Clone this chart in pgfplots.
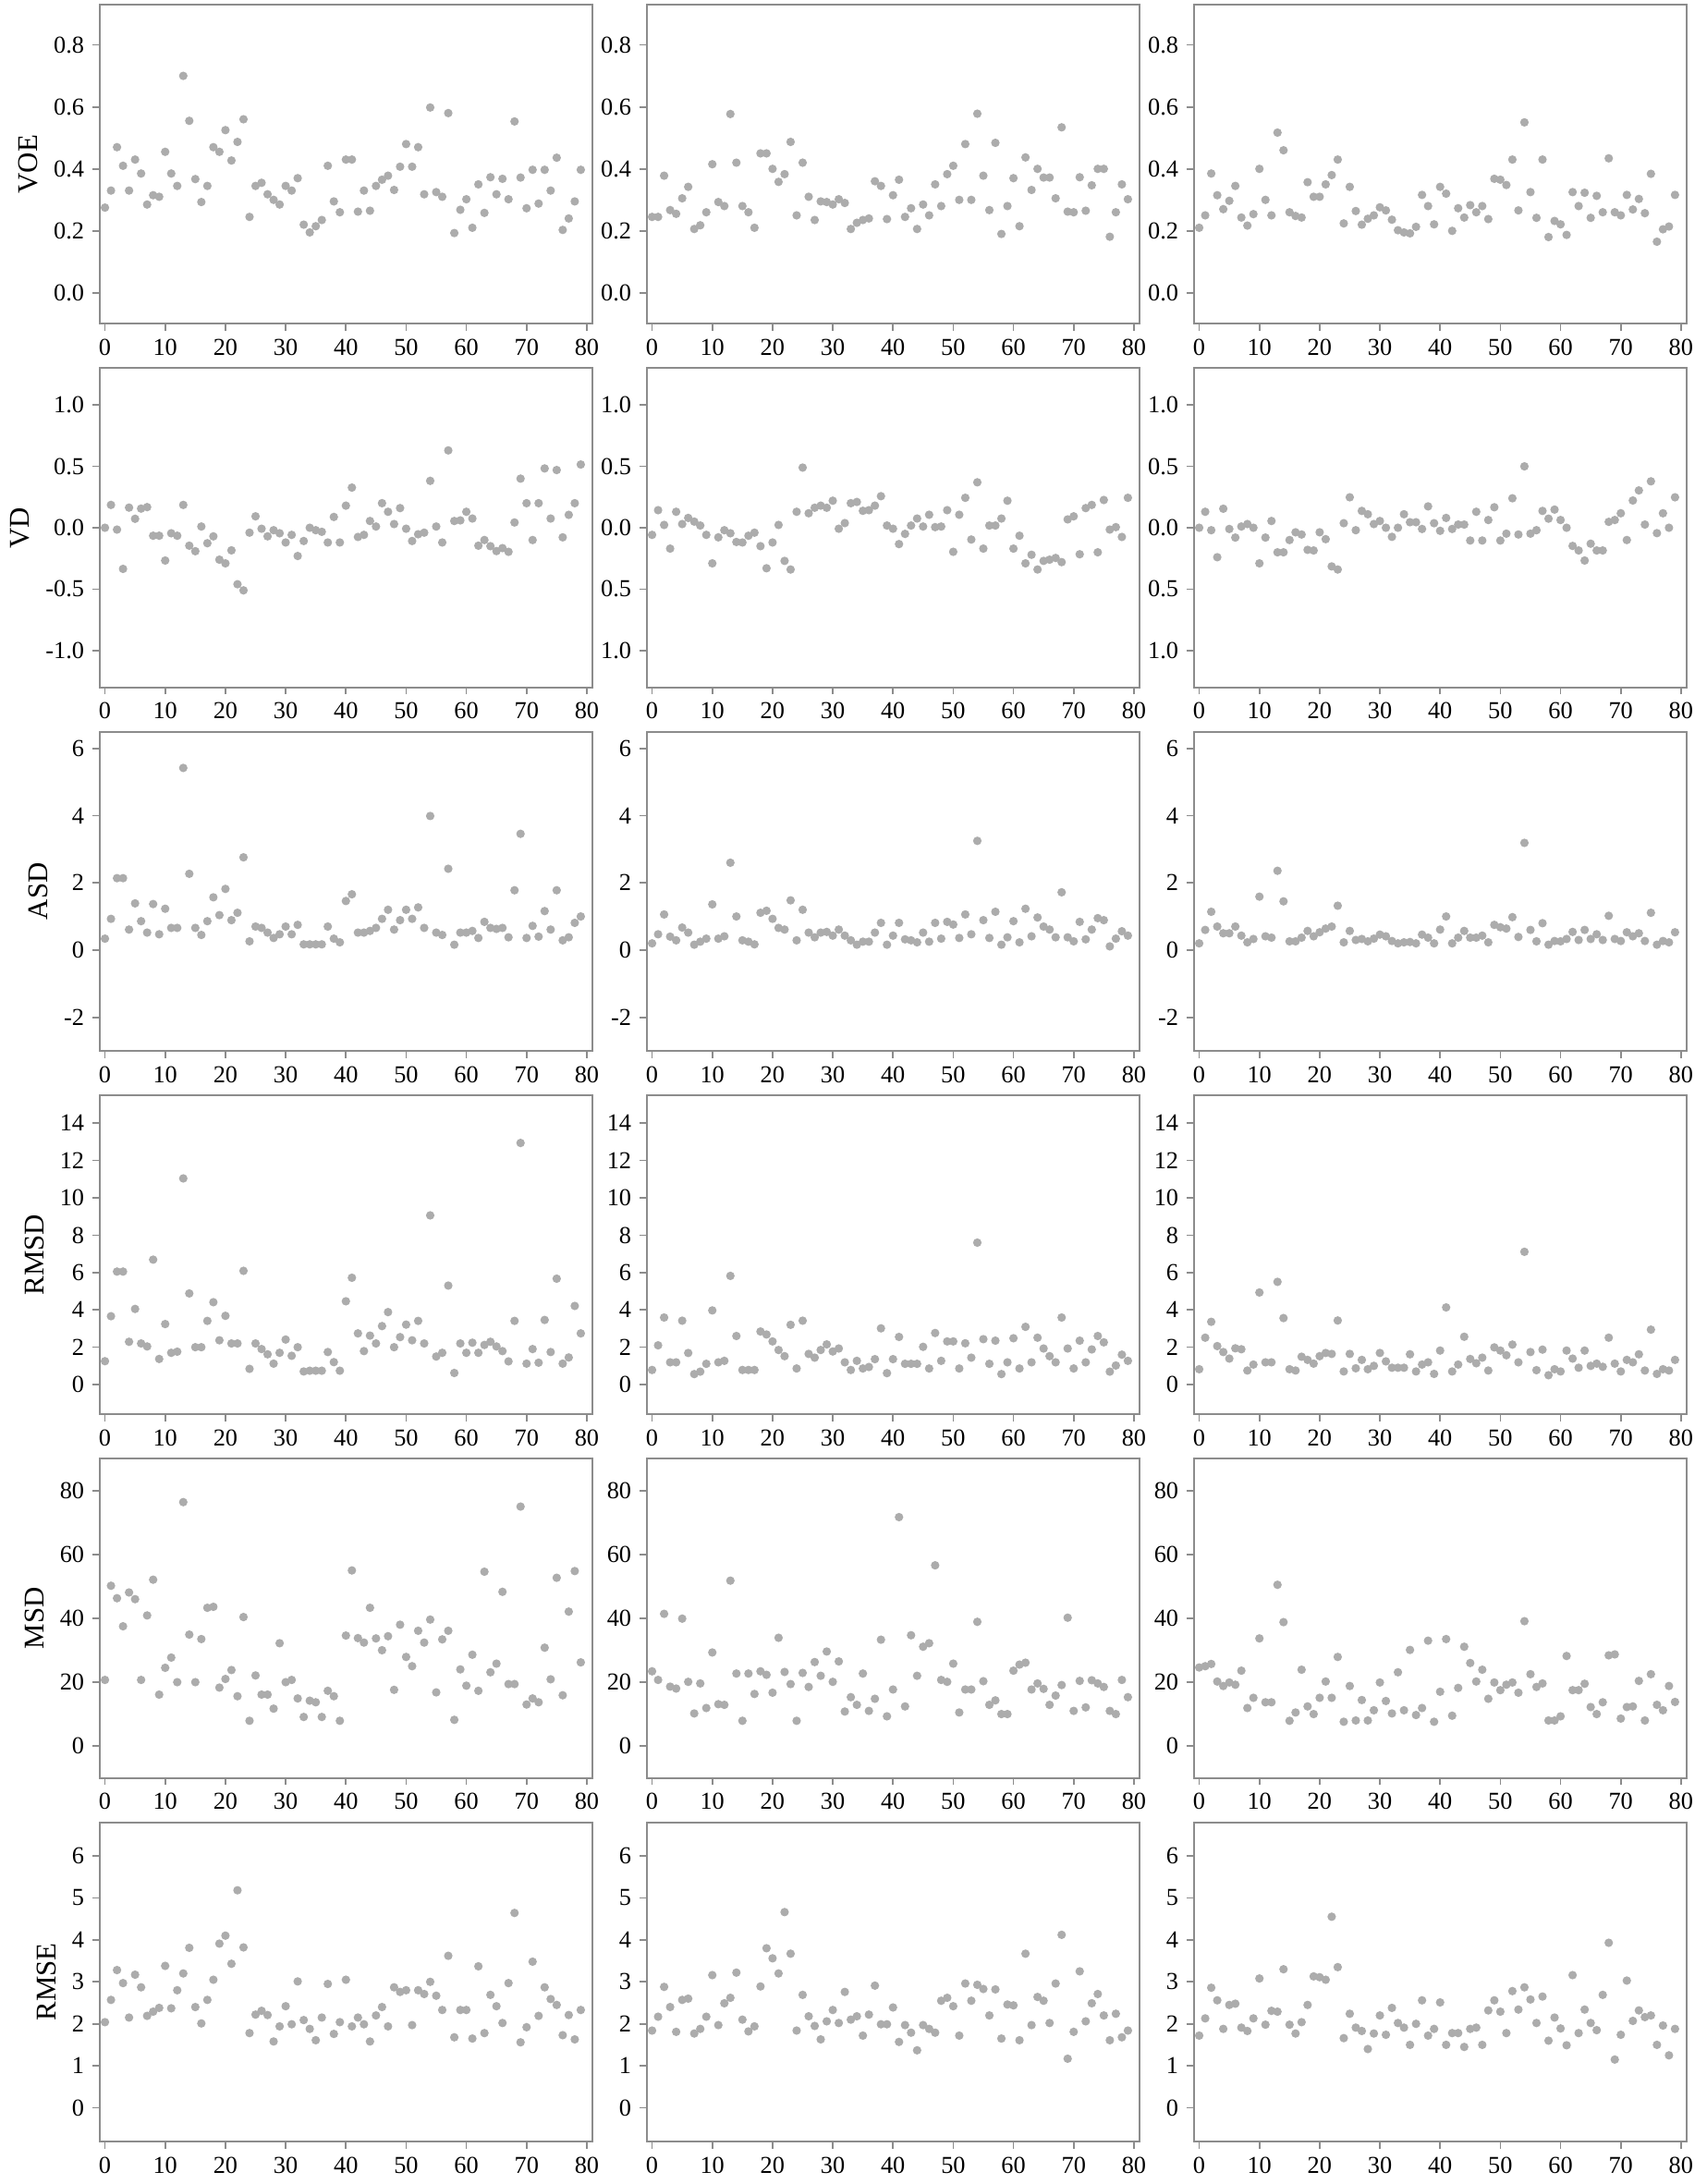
\documentclass[border=0pt]{standalone}
\usepackage{fontspec}
\setmainfont{Liberation Serif}
\usepackage{pgfplots}
\usepackage{pgfplotstable}
\pgfplotsset{compat=1.18}
\usepgfplotslibrary{groupplots}

\definecolor{frame}{RGB}{140,140,140}
\definecolor{dot}{RGB}{172,172,172}

% columns: x, a = left column, b = middle column, c = right column
\pgfplotstableread[row sep=\\]{
x a b c\\
0 0.275 0.245 0.21\\ 1 0.33 0.245 0.25\\ 2 0.47 0.378 0.385\\ 3 0.41 0.267 0.315\\
4 0.33 0.255 0.27\\ 5 0.43 0.305 0.297\\ 6 0.385 0.342 0.345\\ 7 0.285 0.206 0.243\\
8 0.315 0.218 0.217\\ 9 0.31 0.26 0.254\\ 10 0.455 0.415 0.40\\ 11 0.385 0.293 0.30\\
12 0.345 0.28 0.25\\ 13 0.70 0.577 0.517\\ 14 0.555 0.42 0.46\\ 15 0.367 0.28 0.26\\
16 0.293 0.26 0.248\\ 17 0.345 0.21 0.243\\ 18 0.47 0.45 0.357\\ 19 0.455 0.45 0.31\\
20 0.525 0.40 0.31\\ 21 0.427 0.358 0.35\\ 22 0.487 0.383 0.38\\ 23 0.56 0.487 0.43\\
24 0.245 0.25 0.224\\ 25 0.345 0.42 0.342\\ 26 0.355 0.31 0.264\\ 27 0.318 0.235 0.22\\
28 0.30 0.295 0.239\\ 29 0.285 0.293 0.25\\ 30 0.345 0.285 0.276\\ 31 0.33 0.302 0.266\\
32 0.37 0.29 0.236\\ 33 0.22 0.206 0.202\\ 34 0.195 0.226 0.195\\ 35 0.215 0.235 0.192\\
36 0.235 0.24 0.213\\ 37 0.41 0.36 0.316\\ 38 0.295 0.345 0.28\\ 39 0.26 0.238 0.221\\
40 0.43 0.315 0.342\\ 41 0.43 0.365 0.32\\ 42 0.262 0.245 0.20\\ 43 0.33 0.273 0.273\\
44 0.265 0.206 0.243\\ 45 0.345 0.285 0.283\\ 46 0.365 0.25 0.26\\ 47 0.378 0.35 0.28\\
48 0.332 0.28 0.238\\ 49 0.407 0.383 0.368\\ 50 0.48 0.41 0.365\\ 51 0.407 0.30 0.348\\
52 0.47 0.48 0.43\\ 53 0.318 0.30 0.266\\ 54 0.598 0.578 0.55\\ 55 0.325 0.378 0.325\\
56 0.31 0.267 0.242\\ 57 0.58 0.484 0.43\\ 58 0.193 0.19 0.18\\ 59 0.268 0.28 0.232\\
60 0.302 0.37 0.221\\ 61 0.21 0.215 0.187\\ 62 0.35 0.437 0.325\\ 63 0.258 0.332 0.28\\
64 0.373 0.40 0.323\\ 65 0.318 0.372 0.242\\ 66 0.368 0.372 0.313\\ 67 0.302 0.305 0.26\\
68 0.553 0.534 0.434\\ 69 0.372 0.262 0.26\\ 70 0.273 0.26 0.25\\ 71 0.397 0.373 0.316\\
72 0.288 0.265 0.269\\ 73 0.397 0.347 0.303\\ 74 0.33 0.40 0.257\\ 75 0.436 0.40 0.384\\
76 0.203 0.181 0.165\\ 77 0.24 0.26 0.205\\ 78 0.295 0.35 0.214\\ 79 0.397 0.302 0.316\\
}\voe

\pgfplotstableread[row sep=\\]{
x a b c\\
0 0.0 -0.058 0.0\\ 1 0.186 0.143 0.13\\ 2 -0.015 0.023 -0.02\\ 3 -0.335 -0.17 -0.24\\
4 0.164 0.13 0.155\\ 5 0.073 0.03 -0.01\\ 6 0.156 0.08 -0.08\\ 7 0.168 0.05 0.01\\
8 -0.065 0.018 0.03\\ 9 -0.065 -0.058 0.0\\ 10 -0.267 -0.29 -0.29\\ 11 -0.045 -0.078 -0.08\\
12 -0.065 -0.02 0.055\\ 13 0.186 -0.045 -0.2\\ 14 -0.146 -0.116 -0.2\\ 15 -0.191 -0.12 -0.1\\
16 0.01 -0.065 -0.037\\ 17 -0.126 -0.04 -0.055\\ 18 -0.07 -0.15 -0.18\\ 19 -0.26 -0.33 -0.185\\
20 -0.29 -0.12 -0.037\\ 21 -0.184 0.023 -0.093\\ 22 -0.46 -0.27 -0.315\\ 23 -0.51 -0.34 -0.34\\
24 -0.04 0.13 0.037\\ 25 0.093 0.49 0.248\\ 26 -0.008 0.118 -0.02\\ 27 -0.07 0.163 0.137\\
28 -0.02 0.18 0.11\\ 29 -0.045 0.163 0.03\\ 30 -0.12 0.22 0.055\\ 31 -0.058 -0.008 0.0\\
32 -0.23 0.038 -0.074\\ 33 -0.108 0.2 0.0\\ 34 0.0 0.21 0.11\\ 35 -0.02 0.138 0.045\\
36 -0.033 0.143 0.045\\ 37 -0.12 0.18 -0.01\\ 38 0.088 0.257 0.174\\ 39 -0.12 0.018 0.037\\
40 0.18 -0.008 -0.025\\ 41 0.327 -0.133 0.08\\ 42 -0.075 -0.05 -0.01\\ 43 -0.058 0.018 0.026\\
44 0.055 0.075 0.026\\ 45 0.01 0.01 -0.104\\ 46 0.2 0.106 0.13\\ 47 0.13 0.005 -0.104\\
48 0.03 0.01 0.063\\ 49 0.16 0.143 0.167\\ 50 -0.008 -0.196 -0.104\\ 51 -0.108 0.106 -0.048\\
52 -0.053 0.244 0.24\\ 53 -0.04 -0.096 -0.055\\ 54 0.382 0.37 0.5\\ 55 0.01 -0.17 -0.048\\
56 -0.12 0.018 -0.02\\ 57 0.63 0.018 0.137\\ 58 0.055 0.075 0.074\\ 59 0.06 0.22 0.148\\
60 0.13 -0.17 0.063\\ 61 0.075 -0.065 0.0\\ 62 -0.146 -0.29 -0.148\\ 63 -0.1 -0.22 -0.185\\
64 -0.15 -0.34 -0.267\\ 65 -0.19 -0.27 -0.13\\ 66 -0.166 -0.26 -0.185\\ 67 -0.196 -0.246 -0.185\\
68 0.043 -0.28 0.048\\ 69 0.40 0.068 0.063\\ 70 0.2 0.093 0.118\\ 71 -0.1 -0.216 -0.1\\
72 0.2 0.16 0.222\\ 73 0.483 0.186 0.304\\ 74 0.075 -0.2 0.026\\ 75 0.47 0.226 0.378\\
76 -0.078 -0.015 -0.044\\ 77 0.105 0.005 0.118\\ 78 0.2 -0.075 0.0\\ 79 0.515 0.244 0.248\\
}\vd

\pgfplotstableread[row sep=\\]{
x a b c\\
0 0.34 0.2 0.2\\ 1 0.93 0.47 0.6\\ 2 2.14 1.06 1.14\\ 3 2.14 0.4 0.7\\
4 0.61 0.29 0.5\\ 5 1.39 0.67 0.5\\ 6 0.86 0.52 0.7\\ 7 0.52 0.16 0.43\\
8 1.37 0.25 0.23\\ 9 0.47 0.34 0.33\\ 10 1.23 1.36 1.59\\ 11 0.66 0.34 0.41\\
12 0.66 0.41 0.37\\ 13 5.42 2.6 2.36\\ 14 2.27 1.0 1.45\\ 15 0.66 0.29 0.26\\
16 0.45 0.25 0.26\\ 17 0.86 0.17 0.37\\ 18 1.57 1.11 0.57\\ 19 1.04 1.17 0.41\\
20 1.82 0.93 0.53\\ 21 0.89 0.66 0.64\\ 22 1.11 0.61 0.7\\ 23 2.76 1.48 1.32\\
24 0.26 0.29 0.23\\ 25 0.7 1.2 0.57\\ 26 0.66 0.52 0.3\\ 27 0.52 0.38 0.33\\
28 0.36 0.52 0.26\\ 29 0.47 0.54 0.34\\ 30 0.7 0.43 0.46\\ 31 0.47 0.61 0.41\\
32 0.75 0.43 0.27\\ 33 0.17 0.29 0.2\\ 34 0.17 0.16 0.23\\ 35 0.17 0.25 0.24\\
36 0.17 0.25 0.2\\ 37 0.7 0.52 0.46\\ 38 0.34 0.81 0.37\\ 39 0.23 0.16 0.2\\
40 1.46 0.43 0.61\\ 41 1.66 0.81 1.0\\ 42 0.52 0.32 0.2\\ 43 0.52 0.29 0.37\\
44 0.57 0.23 0.57\\ 45 0.66 0.52 0.37\\ 46 0.93 0.25 0.37\\ 47 1.2 0.81 0.43\\
48 0.61 0.34 0.23\\ 49 0.89 0.84 0.75\\ 50 1.2 0.76 0.68\\ 51 0.93 0.36 0.64\\
52 1.27 1.06 0.98\\ 53 0.66 0.47 0.39\\ 54 3.99 3.25 3.19\\ 55 0.52 0.89 0.6\\
56 0.45 0.36 0.26\\ 57 2.42 1.14 0.8\\ 58 0.16 0.16 0.16\\ 59 0.52 0.38 0.27\\
60 0.52 0.86 0.26\\ 61 0.57 0.23 0.33\\ 62 0.36 1.23 0.54\\ 63 0.84 0.41 0.3\\
64 0.66 0.97 0.6\\ 65 0.63 0.7 0.33\\ 66 0.66 0.61 0.47\\ 67 0.38 0.38 0.3\\
68 1.78 1.72 1.02\\ 69 3.46 0.38 0.33\\ 70 0.36 0.26 0.27\\ 71 0.72 0.84 0.53\\
72 0.4 0.32 0.41\\ 73 1.16 0.61 0.5\\ 74 0.61 0.95 0.27\\ 75 1.78 0.89 1.11\\
76 0.29 0.11 0.16\\ 77 0.38 0.34 0.27\\ 78 0.81 0.56 0.23\\ 79 1.0 0.43 0.53\\
}\asd

\pgfplotstableread[row sep=\\]{
x a b c\\
0 1.25 0.78 0.82\\ 1 3.66 2.1 2.51\\ 2 6.05 3.59 3.36\\ 3 6.05 1.19 2.06\\
4 2.29 1.19 1.74\\ 5 4.05 3.42 1.39\\ 6 2.2 1.69 1.94\\ 7 2.04 0.56 1.89\\
8 6.69 0.69 0.75\\ 9 1.37 1.11 1.07\\ 10 3.24 3.97 4.93\\ 11 1.7 1.19 1.19\\
12 1.76 1.27 1.19\\ 13 11.04 5.82 5.5\\ 14 4.88 2.6 3.56\\ 15 2.0 0.78 0.82\\
16 2.0 0.78 0.75\\ 17 3.41 0.78 1.49\\ 18 4.41 2.84 1.32\\ 19 2.37 2.68 1.12\\
20 3.68 2.31 1.52\\ 21 2.2 1.85 1.69\\ 22 2.2 1.52 1.64\\ 23 6.09 3.2 3.43\\
24 0.84 0.86 0.7\\ 25 2.2 3.42 1.64\\ 26 1.9 1.64 0.87\\ 27 1.62 1.44 1.32\\
28 1.12 1.85 0.82\\ 29 1.7 2.15 1.0\\ 30 2.41 1.77 1.69\\ 31 1.54 1.93 1.24\\
32 2.0 1.19 0.9\\ 33 0.7 0.78 0.9\\ 34 0.74 1.27 0.9\\ 35 0.74 0.86 1.62\\
36 0.74 0.94 0.7\\ 37 1.74 1.36 1.07\\ 38 1.2 3.01 1.19\\ 39 0.74 0.61 0.57\\
40 4.46 1.36 1.82\\ 41 5.72 2.55 4.13\\ 42 2.74 1.11 0.7\\ 43 1.79 1.11 1.07\\
44 2.62 1.11 2.56\\ 45 2.2 2.02 1.37\\ 46 3.13 0.86 1.14\\ 47 3.88 2.76 1.44\\
48 2.0 1.27 0.75\\ 49 2.54 2.31 1.99\\ 50 3.21 2.31 1.82\\ 51 2.37 0.86 1.57\\
52 3.41 2.21 2.14\\ 53 2.2 1.44 1.19\\ 54 9.06 7.6 7.11\\ 55 1.5 2.43 1.74\\
56 1.7 1.11 0.77\\ 57 5.3 2.35 1.87\\ 58 0.62 0.56 0.5\\ 59 2.2 1.19 0.82\\
60 1.7 2.48 0.7\\ 61 2.24 0.86 1.82\\ 62 1.7 3.09 1.39\\ 63 2.12 1.19 0.9\\
64 2.29 2.51 1.82\\ 65 2.04 1.93 1.0\\ 66 1.79 1.52 1.12\\ 67 1.24 1.19 0.95\\
68 3.41 3.59 2.51\\ 69 12.94 1.93 1.12\\ 70 1.12 0.86 0.7\\ 71 1.9 2.35 1.32\\
72 1.17 1.19 1.19\\ 73 3.46 1.88 1.62\\ 74 1.74 2.6 0.75\\ 75 5.67 2.26 2.94\\
76 1.12 0.69 0.57\\ 77 1.45 1.02 0.82\\ 78 4.21 1.6 0.75\\ 79 2.74 1.27 1.32\\
}\rmsd

\pgfplotstableread[row sep=\\]{
x a b c\\
0 20.7 23.4 24.6\\ 1 50.2 20.7 25.0\\ 2 46.3 41.4 25.7\\ 3 37.5 18.6 20.2\\
4 48.1 18.0 18.8\\ 5 46.0 39.9 19.9\\ 6 20.7 20.1 19.2\\ 7 40.9 10.2 23.6\\
8 52.1 19.6 11.9\\ 9 16.1 11.9 15.1\\ 10 24.5 29.3 33.7\\ 11 27.7 13.1 13.7\\
12 20.0 12.9 13.7\\ 13 76.4 51.8 50.5\\ 14 34.9 22.7 38.8\\ 15 20.0 7.9 7.9\\
16 33.5 22.7 10.5\\ 17 43.3 16.3 23.9\\ 18 43.6 23.4 12.4\\ 19 18.3 22.3 10.0\\
20 21.0 16.7 15.1\\ 21 23.8 33.9 20.2\\ 22 15.6 23.2 15.1\\ 23 40.4 19.4 27.9\\
24 7.9 7.9 7.6\\ 25 22.1 22.9 18.8\\ 26 16.1 18.5 8.0\\ 27 16.1 26.3 14.4\\
28 11.7 22.0 8.0\\ 29 32.2 29.6 11.2\\ 30 20.0 20.1 19.9\\ 31 20.7 26.5 14.1\\
32 14.9 10.8 10.2\\ 33 9.1 15.3 23.1\\ 34 14.2 12.9 11.2\\ 35 13.7 22.7 30.1\\
36 9.1 11.0 9.7\\ 37 17.3 14.8 11.9\\ 38 15.6 33.3 33.0\\ 39 7.9 9.3 7.6\\
40 34.6 17.7 17.0\\ 41 55.0 71.7 33.5\\ 42 33.8 12.4 9.5\\ 43 32.4 34.7 18.2\\
44 43.3 22.0 31.1\\ 45 33.7 31.1 26.0\\ 46 30.0 32.2 20.2\\ 47 34.4 56.6 23.9\\
48 17.6 20.7 14.8\\ 49 38.0 20.1 19.9\\ 50 27.9 25.8 17.5\\ 51 25.0 10.5 19.2\\
52 36.1 17.7 19.9\\ 53 32.4 17.7 16.7\\ 54 39.6 38.9 39.1\\ 55 16.8 20.3 22.5\\
56 33.4 12.9 18.5\\ 57 36.1 14.3 19.6\\ 58 8.2 10.0 8.0\\ 59 24.0 10.0 8.0\\
60 18.9 23.6 9.3\\ 61 28.6 25.5 28.2\\ 62 17.3 26.1 17.5\\ 63 54.6 17.7 17.5\\
64 23.1 19.6 19.5\\ 65 25.8 17.9 12.2\\ 66 48.3 12.9 10.0\\ 67 19.4 15.8 13.7\\
68 19.4 19.1 28.4\\ 69 75.0 40.2 28.7\\ 70 13.0 11.0 8.6\\ 71 14.9 20.4 12.2\\
72 13.7 12.1 12.4\\ 73 30.8 20.6 20.4\\ 74 20.9 19.6 8.0\\ 75 52.7 18.5 22.5\\
76 15.9 11.0 12.9\\ 77 42.1 10.0 11.2\\ 78 54.8 20.7 18.8\\ 79 26.2 15.3 13.8\\
}\msd

\pgfplotstableread[row sep=\\]{
x a b c\\
0 2.04 1.84 1.72\\ 1 2.57 2.17 2.13\\ 2 3.28 2.88 2.86\\ 3 2.97 2.4 2.56\\
4 2.15 1.81 1.88\\ 5 3.17 2.57 2.45\\ 6 2.87 2.6 2.48\\ 7 2.19 1.77 1.91\\
8 2.29 1.88 1.83\\ 9 2.38 2.17 2.13\\ 10 3.38 3.16 3.08\\ 11 2.37 1.97 1.98\\
12 2.8 2.49 2.31\\ 13 3.2 2.62 2.29\\ 14 3.81 3.22 3.3\\ 15 2.4 2.1 1.98\\
16 2.01 1.82 1.77\\ 17 2.57 1.94 2.04\\ 18 3.05 2.89 2.45\\ 19 3.91 3.8 3.13\\
20 4.1 3.56 3.11\\ 21 3.43 3.2 3.05\\ 22 5.18 4.66 4.55\\ 23 3.82 3.67 3.35\\
24 1.78 1.84 1.66\\ 25 2.22 2.69 2.24\\ 26 2.31 2.18 1.91\\ 27 2.21 1.95 1.83\\
28 1.58 1.63 1.4\\ 29 1.94 2.06 1.77\\ 30 2.42 2.33 2.2\\ 31 1.99 2.02 1.74\\
32 3.01 2.76 2.38\\ 33 2.09 2.1 2.02\\ 34 1.88 2.18 1.91\\ 35 1.61 1.72 1.5\\
36 2.15 2.22 2.0\\ 37 2.95 2.91 2.56\\ 38 1.76 1.99 1.72\\ 39 2.04 1.99 1.88\\
40 3.05 2.39 2.51\\ 41 1.94 1.57 1.5\\ 42 2.15 1.97 1.78\\ 43 1.99 1.79 1.78\\
44 1.58 1.37 1.45\\ 45 2.2 1.97 1.88\\ 46 2.4 1.88 1.91\\ 47 1.94 1.79 1.5\\
48 2.87 2.55 2.32\\ 49 2.76 2.62 2.56\\ 50 2.8 2.42 2.29\\ 51 1.97 1.72 1.78\\
52 2.8 2.96 2.78\\ 53 2.71 2.55 2.34\\ 54 3.0 2.93 2.87\\ 55 2.67 2.83 2.58\\
56 2.33 2.2 2.02\\ 57 3.62 2.82 2.65\\ 58 1.68 1.65 1.6\\ 59 2.33 2.46 2.15\\
60 2.33 2.44 1.89\\ 61 1.65 1.61 1.49\\ 62 3.37 3.67 3.16\\ 63 1.78 1.97 1.78\\
64 2.69 2.64 2.34\\ 65 2.42 2.55 2.02\\ 66 2.02 2.02 1.85\\ 67 2.97 2.96 2.69\\
68 4.64 4.12 3.93\\ 69 1.56 1.17 1.15\\ 70 1.92 1.81 1.74\\ 71 3.48 3.25 3.03\\
72 2.19 2.06 2.07\\ 73 2.87 2.49 2.32\\ 74 2.59 2.71 2.16\\ 75 2.45 2.2 2.2\\
76 1.73 1.61 1.5\\ 77 2.21 2.24 1.96\\ 78 1.63 1.68 1.25\\ 79 2.33 1.84 1.88\\
}\rmse

\pgfplotsset{
  dots/.style={only marks, mark=*, mark size=1.1pt, color=dot},
}

\begin{document}
\begin{tikzpicture}
\begin{groupplot}[
  group style={group name=G, group size=3 by 6,
    horizontal sep=0.59cm, vertical sep=0.48cm},
  scale only axis,
  width=5.34cm, height=3.46cm,
  xmin=-0.9, xmax=80.9,
  xtick={0,10,...,80},
  axis line style={frame, line width=0.6pt},
  tick style={frame, line width=0.5pt},
  tick align=outside, major tick length=2.2pt,
  xtick pos=bottom, ytick pos=left,
  /pgf/number format/assume math mode=true,
  tick label style={font=\fontsize{7.5}{8}\selectfont},
  xticklabel style={yshift=1pt},
  yticklabel style={xshift=1pt},
  label style={font=\fontsize{8.8}{9}\selectfont},
  ylabel style={yshift=-2pt},
  clip=false,
]
% VOE
\nextgroupplot[ymin=-0.1, ymax=0.93, ytick={0,0.2,0.4,0.6,0.8},
  yticklabels={0.0,0.2,0.4,0.6,0.8}, ylabel={VOE}]
\addplot[dots] table[x=x, y=a] {\voe};
\nextgroupplot[ymin=-0.1, ymax=0.93, ytick={0,0.2,0.4,0.6,0.8},
  yticklabels={0.0,0.2,0.4,0.6,0.8}]
\addplot[dots] table[x=x, y=b] {\voe};
\nextgroupplot[ymin=-0.1, ymax=0.93, ytick={0,0.2,0.4,0.6,0.8},
  yticklabels={0.0,0.2,0.4,0.6,0.8}]
\addplot[dots] table[x=x, y=c] {\voe};
% VD
\nextgroupplot[ymin=-1.3, ymax=1.3, ytick={-1,-0.5,0,0.5,1},
  yticklabels={-1.0,-0.5,0.0,0.5,1.0}, ylabel={VD}]
\addplot[dots] table[x=x, y=a] {\vd};
\nextgroupplot[ymin=-1.3, ymax=1.3, ytick={-1,-0.5,0,0.5,1},
  yticklabels={1.0,0.5,0.0,0.5,1.0}]
\addplot[dots] table[x=x, y=b] {\vd};
\nextgroupplot[ymin=-1.3, ymax=1.3, ytick={-1,-0.5,0,0.5,1},
  yticklabels={1.0,0.5,0.0,0.5,1.0}]
\addplot[dots] table[x=x, y=c] {\vd};
% ASD
\nextgroupplot[ymin=-3, ymax=6.5, ytick={-2,0,2,4,6}, ylabel={ASD}]
\addplot[dots] table[x=x, y=a] {\asd};
\nextgroupplot[ymin=-3, ymax=6.5, ytick={-2,0,2,4,6}]
\addplot[dots] table[x=x, y=b] {\asd};
\nextgroupplot[ymin=-3, ymax=6.5, ytick={-2,0,2,4,6}]
\addplot[dots] table[x=x, y=c] {\asd};
% RMSD
\nextgroupplot[ymin=-1.6, ymax=15.5, ytick={0,2,...,14}, ylabel={RMSD}]
\addplot[dots] table[x=x, y=a] {\rmsd};
\nextgroupplot[ymin=-1.6, ymax=15.5, ytick={0,2,...,14}]
\addplot[dots] table[x=x, y=b] {\rmsd};
\nextgroupplot[ymin=-1.6, ymax=15.5, ytick={0,2,...,14}]
\addplot[dots] table[x=x, y=c] {\rmsd};
% MSD
\nextgroupplot[ymin=-10, ymax=90, ytick={0,20,...,80}, ylabel={MSD}]
\addplot[dots] table[x=x, y=a] {\msd};
\nextgroupplot[ymin=-10, ymax=90, ytick={0,20,...,80}]
\addplot[dots] table[x=x, y=b] {\msd};
\nextgroupplot[ymin=-10, ymax=90, ytick={0,20,...,80}]
\addplot[dots] table[x=x, y=c] {\msd};
% RMSE
\nextgroupplot[ymin=-0.8, ymax=6.8, ytick={0,1,...,6}, ylabel={RMSE}]
\addplot[dots] table[x=x, y=a] {\rmse};
\nextgroupplot[ymin=-0.8, ymax=6.8, ytick={0,1,...,6}]
\addplot[dots] table[x=x, y=b] {\rmse};
\nextgroupplot[ymin=-0.8, ymax=6.8, ytick={0,1,...,6}]
\addplot[dots] table[x=x, y=c] {\rmse};
\end{groupplot}
% page margins as in the reference
\path ([xshift=-0.99cm, yshift=0.05cm]G c1r1.north west)
  rectangle ([xshift=0.22cm, yshift=-0.42cm]G c3r6.south east);
\end{tikzpicture}
\end{document}
